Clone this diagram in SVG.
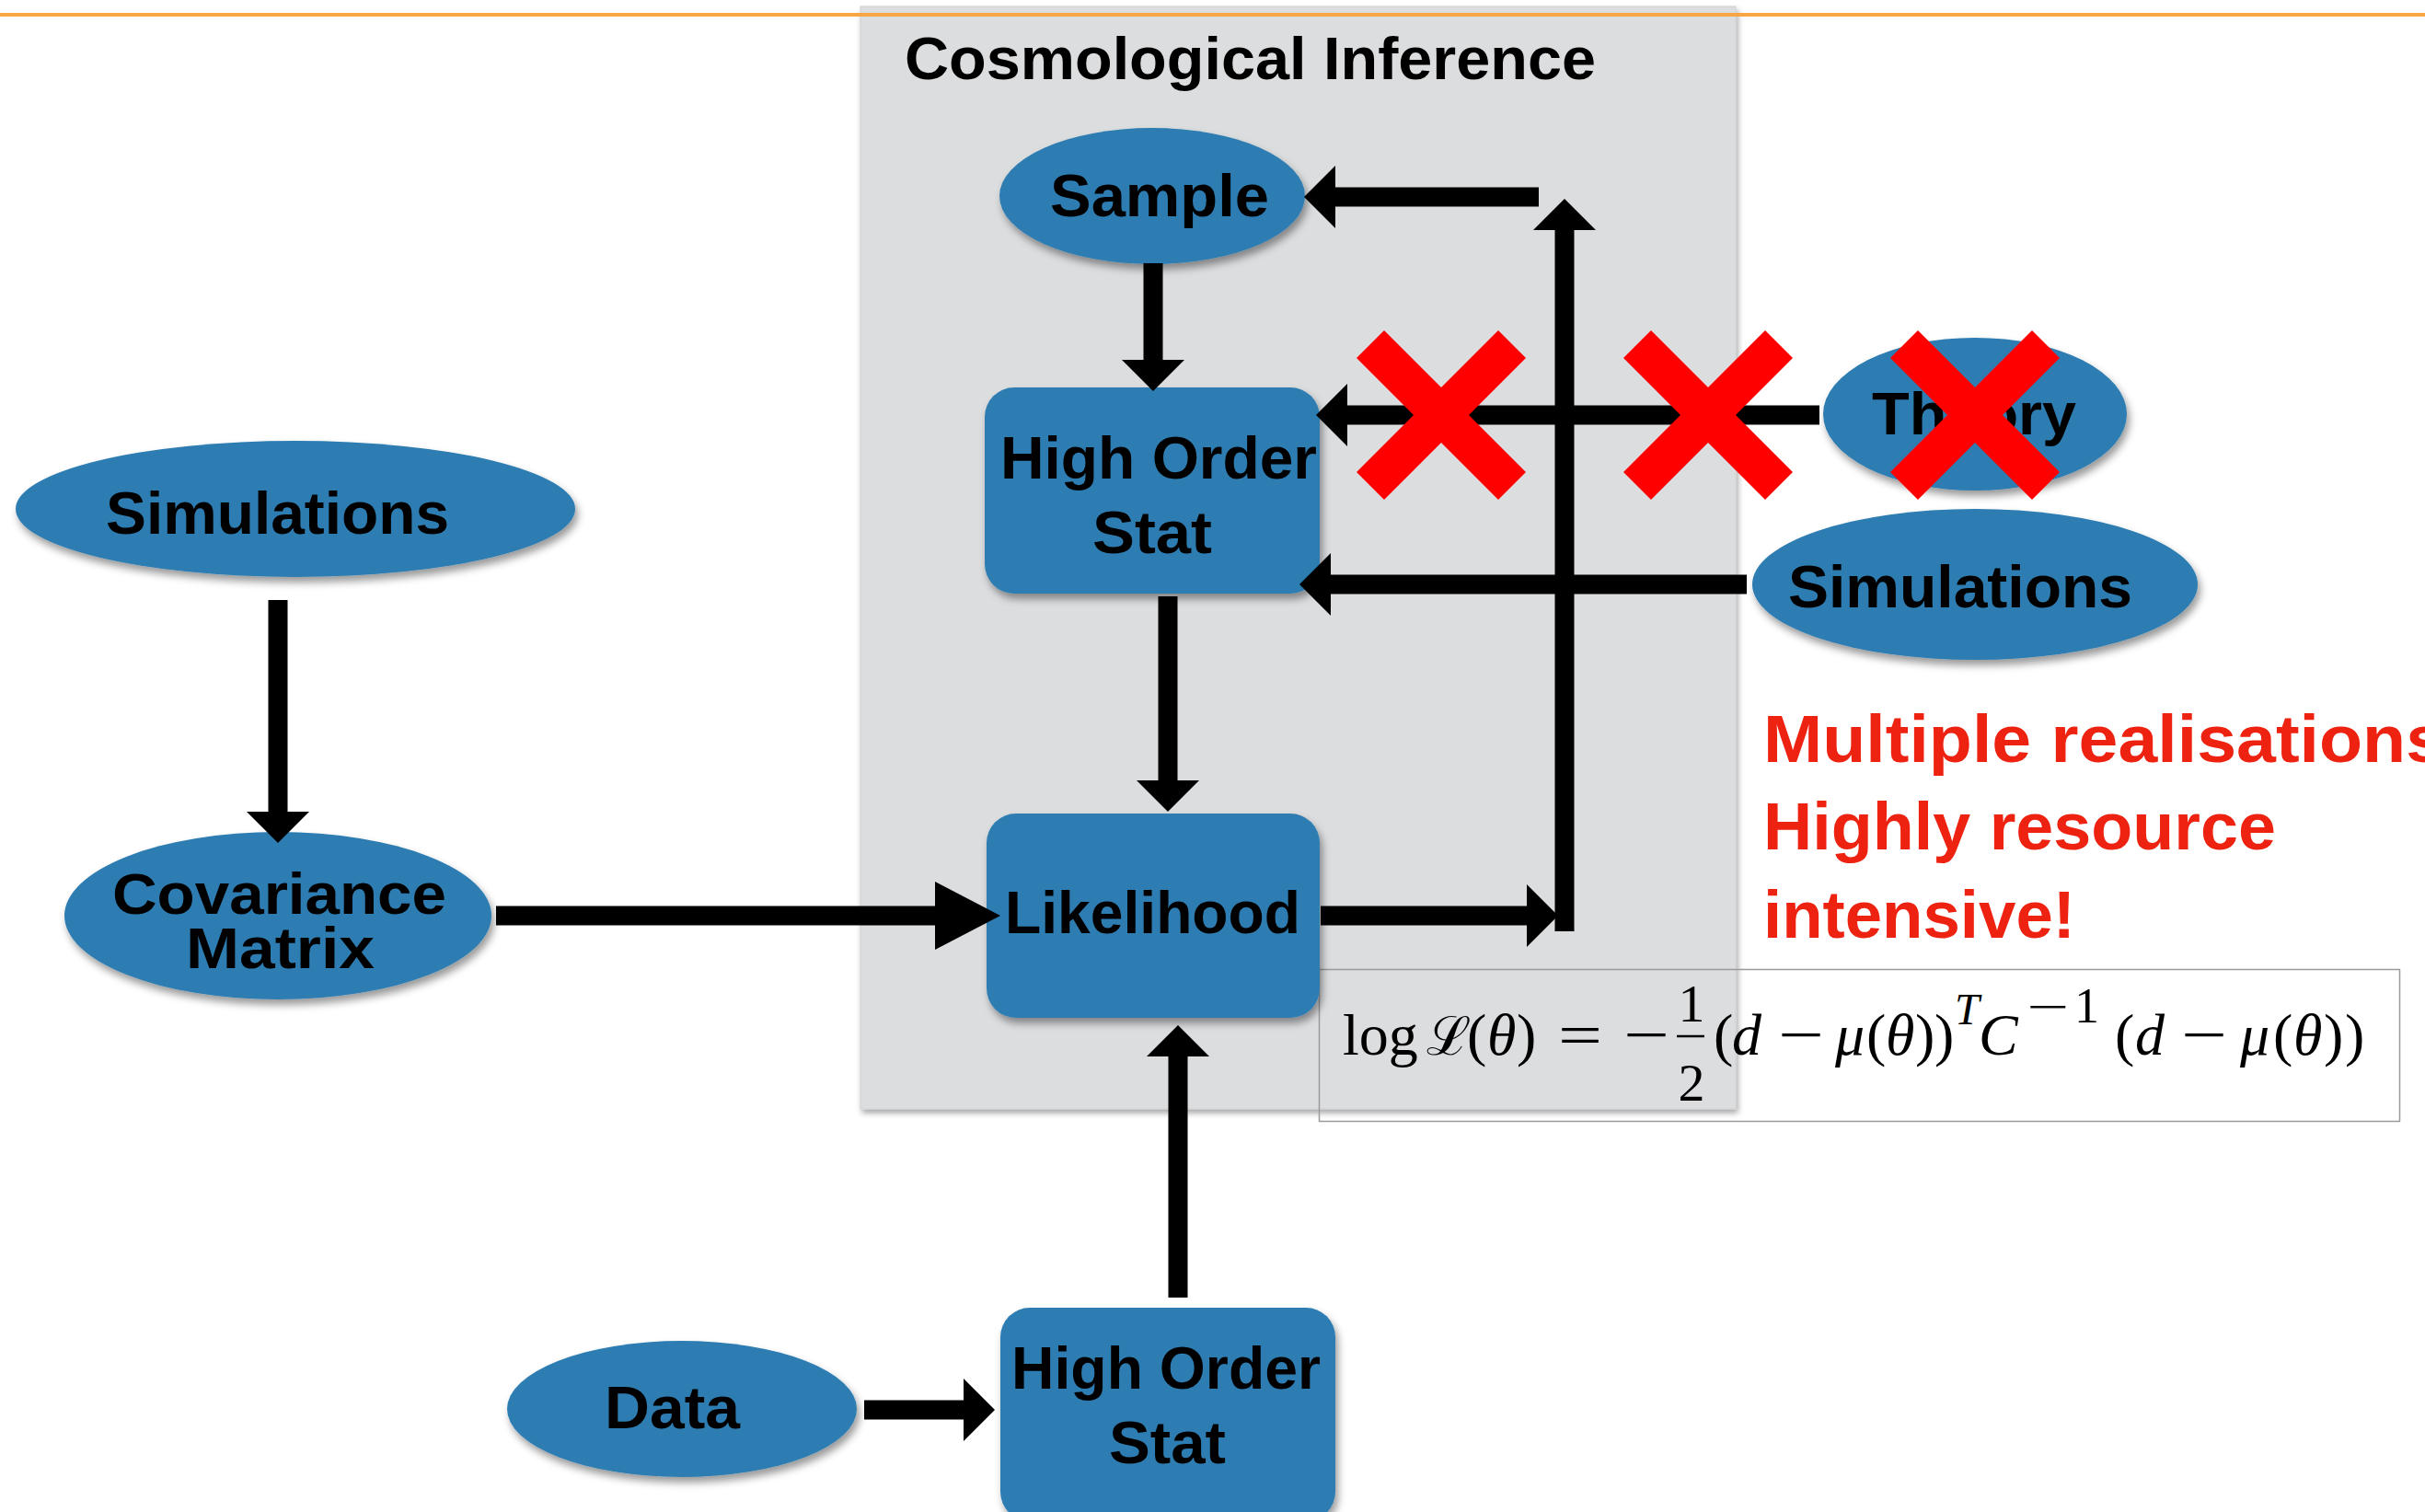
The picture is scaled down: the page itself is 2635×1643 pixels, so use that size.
<svg xmlns="http://www.w3.org/2000/svg" xmlns:xlink="http://www.w3.org/1999/xlink" width="2635" height="1643" viewBox="0 0 2635 1643">
<style>
.node{fill:#2e7db2;filter:url(#sh)}
.lbl{font-family:"Liberation Sans",Arial,sans-serif;font-weight:bold;font-size:65px;fill:#000}
.conn{stroke:#000;stroke-width:21;fill:none;marker-end:url(#ah)}
.red{font-family:"Liberation Sans",Arial,sans-serif;font-weight:bold;font-size:72px;fill:#ee2211}
.math{font-family:"Liberation Serif","Times New Roman",serif;font-size:64px;fill:#000}
.it{font-style:italic}
.xm{fill:#ff0000}
</style>
<defs>
<filter id="sh" x="-10%" y="-10%" width="125%" height="135%">
<feDropShadow dx="3" dy="6" stdDeviation="4" flood-color="#000" flood-opacity="0.4"/>
</filter>
<filter id="shb" x="-5%" y="-5%" width="110%" height="110%">
<feDropShadow dx="2" dy="4" stdDeviation="3" flood-color="#000" flood-opacity="0.35"/>
</filter>
<marker id="ah" markerUnits="userSpaceOnUse" markerWidth="34" markerHeight="68" viewBox="0 0 34 68" refX="0" refY="34" orient="auto">
<path d="M0,0 L34,34 L0,68 Z" fill="#000"/>
</marker>
<marker id="ahbig" markerUnits="userSpaceOnUse" markerWidth="71" markerHeight="74" viewBox="0 0 71 74" refX="0" refY="37" orient="auto">
<path d="M0,0 L71,37 L0,74 Z" fill="#000"/>
</marker>
<polygon id="xmark" class="xm" points="-62,-92 0,-30 62,-92 92,-62 30,0 92,62 62,92 0,30 -62,92 -92,62 -30,0 -92,-62"/>
</defs>

<rect x="0" y="0" width="2635" height="1643" fill="#ffffff"/>

<g id="container">
<rect x="935" y="7" width="951" height="1198" fill="#dcdddf" stroke="#cfd0d2" stroke-width="1" filter="url(#shb)"/>
<text class="lbl" x="983" y="86" textLength="751" lengthAdjust="spacingAndGlyphs">Cosmological Inference</text>
</g>

<line x1="0" y1="16" x2="2635" y2="16" stroke="#f7a645" stroke-width="4"/>

<g id="formula-box">
<rect x="1433.5" y="1053.5" width="1174" height="165" fill="none" stroke="#9a9a9a" stroke-width="1.5"/>
</g>

<g id="nodes">
<g id="sample">
<ellipse class="node" cx="1252" cy="213" rx="166" ry="74"/>
<text class="lbl" x="1141" y="235" textLength="238" lengthAdjust="spacingAndGlyphs">Sample</text>
</g>
<g id="hos-top">
<rect class="node" x="1070" y="421" width="364" height="224" rx="32"/>
<text class="lbl" x="1087" y="520" textLength="344" lengthAdjust="spacingAndGlyphs">High Order</text>
<text class="lbl" x="1187" y="601" textLength="130" lengthAdjust="spacingAndGlyphs">Stat</text>
</g>
<g id="likelihood">
<rect class="node" x="1072" y="884" width="362" height="222" rx="32"/>
<text class="lbl" x="1092" y="1014" textLength="321" lengthAdjust="spacingAndGlyphs">Likelihood</text>
</g>
<g id="theory">
<ellipse class="node" cx="2146" cy="450" rx="165" ry="83"/>
<text class="lbl" x="2034" y="472" textLength="222" lengthAdjust="spacingAndGlyphs">Theory</text>
</g>
<g id="simulations-right">
<ellipse class="node" cx="2146" cy="635" rx="242" ry="82"/>
<text class="lbl" x="1943" y="660" textLength="374" lengthAdjust="spacingAndGlyphs">Simulations</text>
</g>
<g id="simulations-left">
<ellipse class="node" cx="321" cy="553" rx="304" ry="74"/>
<text class="lbl" x="115" y="580" textLength="373" lengthAdjust="spacingAndGlyphs">Simulations</text>
</g>
<g id="covariance">
<ellipse class="node" cx="302" cy="995" rx="232" ry="91"/>
<text class="lbl" x="122" y="993" style="font-size:63px" textLength="363" lengthAdjust="spacingAndGlyphs">Covariance</text>
<text class="lbl" x="202" y="1052" style="font-size:63px" textLength="205" lengthAdjust="spacingAndGlyphs">Matrix</text>
</g>
<g id="data">
<ellipse class="node" cx="741" cy="1531" rx="190" ry="74"/>
<text class="lbl" x="657" y="1552" textLength="147" lengthAdjust="spacingAndGlyphs">Data</text>
</g>
<g id="hos-bottom">
<rect class="node" x="1087" y="1421" width="364" height="232" rx="32"/>
<text class="lbl" x="1099" y="1509" textLength="336" lengthAdjust="spacingAndGlyphs">High Order</text>
<text class="lbl" x="1205" y="1590" textLength="127" lengthAdjust="spacingAndGlyphs">Stat</text>
</g>
</g>

<g id="connectors">
<path class="conn" d="M1253,286 V391"/>
<path class="conn" d="M1435,995 H1659"/>
<path class="conn" d="M1700,1012 V250"/>
<path class="conn" d="M1672,214 H1451"/>
<path class="conn" d="M1977,451 H1464"/>
<path class="conn" d="M1898,635 H1446"/>
<path class="conn" d="M1269,648 V848"/>
<path class="conn" style="marker-end:url(#ahbig)" d="M539,995 H1016"/>
<path class="conn" d="M302,652 V882"/>
<path class="conn" d="M1280,1410 V1148"/>
<path class="conn" d="M939,1532 H1047"/>
</g>

<g id="crosses">
<use xlink:href="#xmark" href="#xmark" x="1566" y="451"/>
<use xlink:href="#xmark" href="#xmark" x="1856" y="451"/>
<use xlink:href="#xmark" href="#xmark" x="2146" y="451"/>
</g>

<g id="note">
<text class="red" x="1916" y="828" textLength="741" lengthAdjust="spacingAndGlyphs">Multiple realisations</text>
<text class="red" x="1916" y="923" textLength="557" lengthAdjust="spacingAndGlyphs">Highly resource</text>
<text class="red" x="1916" y="1019" textLength="339" lengthAdjust="spacingAndGlyphs">intensive!</text>
</g>

<g id="formula">
<text class="math" x="1459" y="1146">log</text>
<text class="math" x="1550" y="1146" style="font-family:'DejaVu Serif','Liberation Serif',serif;font-size:58px">ℒ</text>
<text class="math" y="1146">
<tspan x="1594">(</tspan>
<tspan x="1616" class="it">θ</tspan>
<tspan x="1648">)</tspan>
</text>
<text class="math" x="1693" y="1146" textLength="48" lengthAdjust="spacingAndGlyphs">=</text>
<text class="math" x="1764" y="1146" textLength="50" lengthAdjust="spacingAndGlyphs">−</text>
<text class="math" x="1838" y="1110" text-anchor="middle" style="font-size:58px">1</text>
<line x1="1822" y1="1126" x2="1852" y2="1126" stroke="#000" stroke-width="2.5"/>
<text class="math" x="1838" y="1196" text-anchor="middle" style="font-size:58px">2</text>
<text class="math" y="1146">
<tspan x="1862">(</tspan>
<tspan x="1882" class="it">d</tspan>
</text>
<text class="math" x="1932" y="1146" textLength="50" lengthAdjust="spacingAndGlyphs">−</text>
<text class="math" y="1146">
<tspan x="1994" class="it">μ</tspan>
<tspan x="2028">(</tspan>
<tspan x="2049" class="it">θ</tspan>
<tspan x="2081">)</tspan>
<tspan x="2102">)</tspan>
</text>
<text class="math it" x="2124" y="1113" style="font-size:48px">T</text>
<text class="math it" x="2150" y="1146">C</text>
<text class="math" x="2202" y="1111" style="font-size:50px" textLength="46" lengthAdjust="spacingAndGlyphs">−</text>
<text class="math" x="2254" y="1111" style="font-size:54px">1</text>
<text class="math" y="1146">
<tspan x="2298">(</tspan>
<tspan x="2320" class="it">d</tspan>
</text>
<text class="math" x="2370" y="1146" textLength="50" lengthAdjust="spacingAndGlyphs">−</text>
<text class="math" y="1146">
<tspan x="2434" class="it">μ</tspan>
<tspan x="2470">(</tspan>
<tspan x="2492" class="it">θ</tspan>
<tspan x="2525">)</tspan>
<tspan x="2548">)</tspan>
</text>
</g>
</svg>
